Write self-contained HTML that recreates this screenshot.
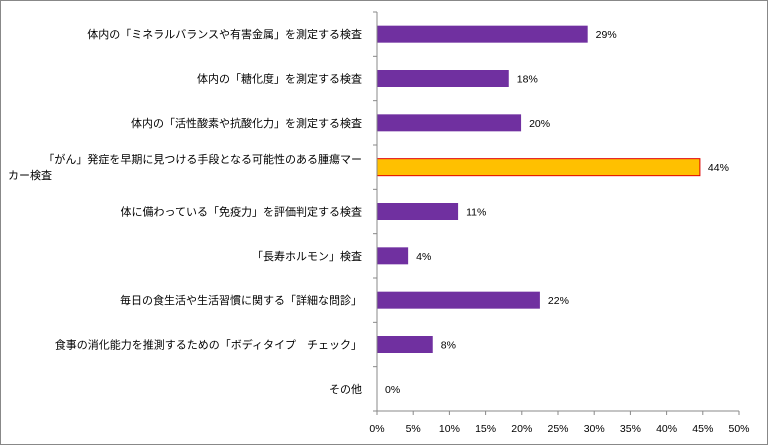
<!DOCTYPE html>
<html><head><meta charset="utf-8"><style>
body{margin:0;background:#fff;}
svg{display:block;font-family:"Liberation Sans","Noto Sans CJK JP",sans-serif;}
</style></head><body>
<svg id="chart" width="768" height="445" xmlns="http://www.w3.org/2000/svg">
<rect x="0.5" y="0.5" width="767" height="444" fill="#fff" stroke="#888"/>
<g id="plot"></g>
</svg>
<script>
const categories=["体内の「ミネラルバランスや有害金属」を測定する検査","体内の「糖化度」を測定する検査","体内の「活性酸素や抗酸化力」を測定する検査","「がん」発症を早期に見つける手段となる可能性のある腫瘍マー|カー検査","体に備わっている「免疫力」を評価判定する検査","「長寿ホルモン」検査","毎日の食生活や生活習慣に関する「詳細な問診」","食事の消化能力を推測するための「ボディタイプ　チェック」","その他"];
const values=[29.1,18.2,19.9,44.6,11.2,4.3,22.5,7.7,0];
const valueLabels=["29%","18%","20%","44%","11%","4%","22%","8%","0%"];
const highlight=[false,false,false,true,false,false,false,false,false];
const ticks=[0,5,10,15,20,25,30,35,40,45,50];
const NS="http://www.w3.org/2000/svg";
const g=document.getElementById('plot');
const x0=377,x1=739,yTop=12,yBot=411;
const xs=v=>x0+(v/50)*(x1-x0);
const band=(yBot-yTop)/categories.length;
function mk(t,a,txt){const e=document.createElementNS(NS,t);for(const k in a)e.setAttribute(k,a[k]);if(txt!==undefined)e.textContent=txt;g.appendChild(e);return e;}
categories.forEach((c,i)=>{
 const cy=yTop+band*(i+0.5);
 const r=mk('rect',{x:xs(0),y:cy-8.5,width:xs(values[i])-xs(0),height:17,fill:highlight[i]?'#FFC000':'#7030A0',stroke:highlight[i]?'#E00000':'none','stroke-width':1});
 
 
 const vl=mk('text',{x:xs(values[i])+8,y:cy+4,'font-size':10.5,fill:'#000'},valueLabels[i]);
 
 
 const lines=c.split('|');
 lines.forEach((ln,j)=>{
  const ty=cy+4+(j-(lines.length-1)/2)*16;
  const t=mk('text',{x:lines.length>1&&j>0?8:362,y:ty,'font-size':11,'text-anchor':lines.length>1&&j>0?'start':'end',fill:'#000'},ln);
  
  
 });
 const tk=mk('line',{x1:x0-4,x2:x0,y1:yTop+band*i,y2:yTop+band*i,stroke:'#888'});
 
 
});
const ya=mk('line',{x1:x0,x2:x0,y1:yTop,y2:yBot,stroke:'#888'});


const xa=mk('line',{x1:x0-4,x2:x1,y1:yBot,y2:yBot,stroke:'#888'});


ticks.forEach(v=>{
 const l=mk('line',{x1:xs(v),x2:xs(v),y1:yBot,y2:yBot+4,stroke:'#888'});
 
 
 const t=mk('text',{x:xs(v),y:432,'font-size':10.5,'text-anchor':'middle',fill:'#000'},v+'%');
 
 
});
</script>
</body></html>
